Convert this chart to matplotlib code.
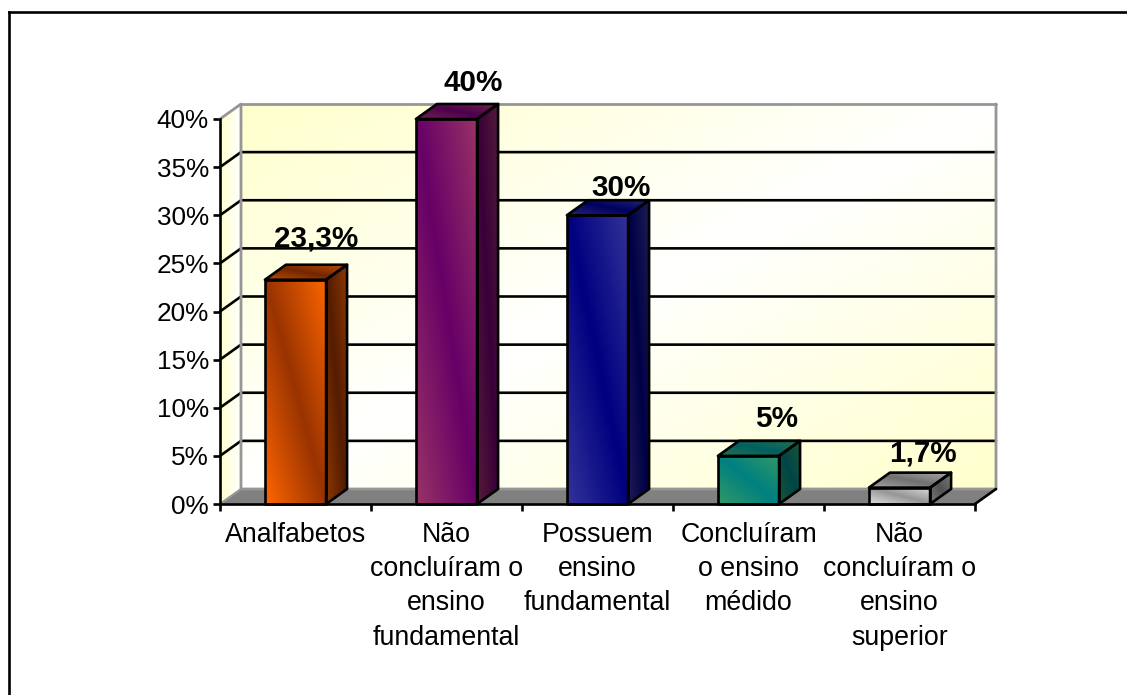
from matplotlib import pyplot as plt
from matplotlib.colors import to_rgb
from matplotlib.lines import Line2D
from matplotlib.patches import Polygon
import numpy as np

categories = [
    'Analfabetos',
    'Não\nconcluíram o\nensino\nfundamental',
    'Possuem\nensino\nfundamental',
    'Concluíram\no ensino\nmédido',
    'Não\nconcluíram o\nensino\nsuperior',
]
values = [23.3, 40, 30, 5, 1.7]
value_labels = ['23,3%', '40%', '30%', '5%', '1,7%']
yticks = [0, 5, 10, 15, 20, 25, 30, 35, 40]

# (dark, light) pair of each bar's gradient
bar_colors = [
    ('#993300', '#FF6600'),
    ('#660066', '#993366'),
    ('#000080', '#333399'),
    ('#008080', '#339966'),
    ('#969696', '#E0E0E0'),
]
# label offsets from the top of the bar, in points
label_offsets = [(15, 29.5), (19.5, 26), (17, 19.5), (20, 26.5), (17, 24.5)]

W, H = 1127, 695
DEPTH_X = 21 / 151      # 3d offset in category units
DEPTH_Y = 15 / 9.625    # 3d offset in percent
BAR_W = 0.405
FONT = 19.3
TICK_FONT = 18.8
BOLD_FONT = 21.3

plt.rcParams['font.family'] = ['Liberation Sans', 'DejaVu Sans']

fig = plt.figure(figsize=(W / 100, H / 100), dpi=100)
ax = fig.add_axes([220 / W, (H - 504) / H, 755 / W, 385 / H])
ax.set_facecolor('none')


def gradient_fill(corners, dark, light, shade=1.0, mode='diag', z=2):
    # fills a polygon with a two colour gradient, clipped to its outline
    xs = [c[0] for c in corners]
    ys = [c[1] for c in corners]
    u, v = np.meshgrid(np.linspace(0, 1, 200), np.linspace(0, 1, 200))
    if mode == 'diag':
        t = np.abs(u - v)
    elif mode == 'anti':
        t = np.abs(u + v - 1)
    else:
        t = u
    dark = np.array(to_rgb(dark))
    light = np.array(to_rgb(light))
    img = (dark + (light - dark) * t[..., None]) * shade
    poly = Polygon(corners, closed=True, transform=ax.transData, fc='none', ec='none')
    ax.add_patch(poly)
    im = ax.imshow(img, extent=(min(xs), max(xs), min(ys), max(ys)),
                   origin='upper', aspect='auto', zorder=z, interpolation='bilinear')
    im.set_clip_box(fig.bbox)
    im.set_clip_path(poly)


def outline(corners, color='black', lw=1.9, z=3):
    ax.add_patch(Polygon(corners, closed=True, fc='none', ec=color, lw=lw, zorder=z,
                         clip_on=False, joinstyle='round'))


def seg(x, y, color='black', lw=1.9, z=1.5):
    ax.add_line(Line2D(x, y, color=color, lw=lw, zorder=z, clip_on=False,
                       solid_capstyle='round'))


n = len(categories)
top = yticks[-1]
dx, dy = DEPTH_X, DEPTH_Y

# back wall, side wall and floor
gradient_fill([(dx, dy), (n + dx, dy), (n + dx, top + dy), (dx, top + dy)],
              '#FFFFFF', '#FFFFCC', mode='anti', z=1)
gradient_fill([(0, 0), (dx, dy), (dx, top + dy), (0, top)],
              '#FFFFCC', '#FFFFFF', mode='horiz', z=1)
ax.add_patch(Polygon([(0, 0), (n, 0), (n + dx, dy), (dx, dy)], fc='#808080', ec='none',
                     zorder=1.2, clip_on=False))

# grid lines run along the side wall and then the back wall
for y in yticks[1:-1]:
    seg([0, dx, n + dx], [y, y + dy, y + dy])

wall = '#969696'
seg([0, dx, dx, n + dx, n + dx], [top, top + dy, dy, dy, top + dy], color=wall, lw=2, z=1.6)
seg([dx, n + dx], [top + dy, top + dy], color=wall, lw=2, z=1.6)
seg([0, dx], [0, dy], color=wall, lw=1.6, z=1.6)
seg([n, n + dx], [0, dy], z=1.6)

# bars: side, top, then front
for i, (val, (dark, light)) in enumerate(zip(values, bar_colors)):
    x0 = i + 0.5 - BAR_W / 2
    x1 = i + 0.5 + BAR_W / 2
    side = [(x1, 0), (x1 + dx, dy), (x1 + dx, val + dy), (x1, val)]
    roof = [(x0, val), (x1, val), (x1 + dx, val + dy), (x0 + dx, val + dy)]
    front = [(x0, 0), (x1, 0), (x1, val), (x0, val)]
    gradient_fill(side, dark, light, shade=0.55, z=2)
    gradient_fill(roof, dark, light, shade=0.75, z=2)
    gradient_fill(front, dark, light, z=2)
    for face in (side, roof, front):
        outline(face)
    ax.annotate(value_labels[i], xy=(i + 0.5, val), xytext=label_offsets[i],
                textcoords='offset points', ha='center', va='center',
                fontsize=BOLD_FONT, fontweight='bold', color='black', zorder=5,
                annotation_clip=False)

ax.set_xlim(0, n)
ax.set_ylim(0, top)
for name in ('top', 'right'):
    ax.spines[name].set_visible(False)
for name in ('left', 'bottom'):
    ax.spines[name].set_linewidth(1.9)
    ax.spines[name].set_zorder(4)

ax.set_yticks(yticks)
ax.set_yticklabels([f'{t}%' for t in yticks], fontsize=TICK_FONT)
ax.tick_params(axis='y', length=5, width=1.9, pad=3)
ax.set_xticks(range(n + 1))
ax.set_xticklabels([])
ax.tick_params(axis='x', which='major', length=5, width=1.9)
ax.set_xticks([i + 0.5 for i in range(n)], minor=True)
ax.set_xticklabels(categories, minor=True, fontsize=FONT, linespacing=1.41)
ax.tick_params(axis='x', which='minor', length=0, pad=13)

# outer chart frame, only top and left are in the canvas
fig.add_artist(Line2D([9 / W, 9 / W], [0, 1 - 12 / H], color='black', lw=1.9))
fig.add_artist(Line2D([9 / W, 1], [1 - 12 / H, 1 - 12 / H], color='black', lw=1.9))

fig.savefig('out.png', dpi=100)
